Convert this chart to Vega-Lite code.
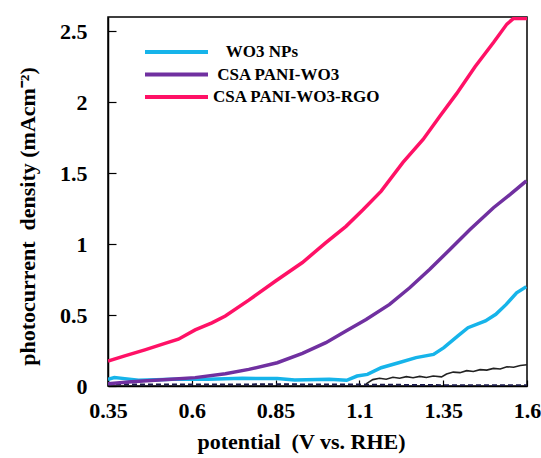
{
  "$schema": "https://vega.github.io/schema/vega-lite/v6.json",
  "width": 419,
  "height": 369,
  "autosize": "none",
  "padding": {"left": 108, "top": 17, "right": 14, "bottom": 72},
  "background": "white",
  "config": {
    "view": {"stroke": "black", "strokeWidth": 1.5},
    "font": "Liberation Serif",
    "axis": {
      "grid": false,
      "domainColor": "black",
      "domainWidth": 1.5,
      "tickColor": "black",
      "tickWidth": 1.2,
      "labelFont": "Liberation Serif",
      "labelFontWeight": "bold",
      "labelFontSize": 22,
      "labelColor": "black",
      "labelFlush": false,
      "labelOverlap": false,
      "titleFont": "Liberation Serif",
      "titleFontWeight": "bold",
      "titleFontSize": 22,
      "titleColor": "black"
    }
  },
  "datasets": {
    "curves": [
      {"series": "WO3 NPs", "potential": 0.35, "density": 0.047},
      {"series": "WO3 NPs", "potential": 0.369, "density": 0.059},
      {"series": "WO3 NPs", "potential": 0.40, "density": 0.052},
      {"series": "WO3 NPs", "potential": 0.441, "density": 0.040},
      {"series": "WO3 NPs", "potential": 0.545, "density": 0.047},
      {"series": "WO3 NPs", "potential": 0.648, "density": 0.047},
      {"series": "WO3 NPs", "potential": 0.751, "density": 0.054},
      {"series": "WO3 NPs", "potential": 0.855, "density": 0.052},
      {"series": "WO3 NPs", "potential": 0.907, "density": 0.042},
      {"series": "WO3 NPs", "potential": 1.010, "density": 0.047},
      {"series": "WO3 NPs", "potential": 1.062, "density": 0.040},
      {"series": "WO3 NPs", "potential": 1.093, "density": 0.070},
      {"series": "WO3 NPs", "potential": 1.124, "density": 0.082},
      {"series": "WO3 NPs", "potential": 1.165, "density": 0.129},
      {"series": "WO3 NPs", "potential": 1.217, "density": 0.164},
      {"series": "WO3 NPs", "potential": 1.269, "density": 0.200},
      {"series": "WO3 NPs", "potential": 1.321, "density": 0.223},
      {"series": "WO3 NPs", "potential": 1.352, "density": 0.270},
      {"series": "WO3 NPs", "potential": 1.393, "density": 0.352},
      {"series": "WO3 NPs", "potential": 1.424, "density": 0.411},
      {"series": "WO3 NPs", "potential": 1.476, "density": 0.458},
      {"series": "WO3 NPs", "potential": 1.507, "density": 0.505},
      {"series": "WO3 NPs", "potential": 1.538, "density": 0.575},
      {"series": "WO3 NPs", "potential": 1.569, "density": 0.657},
      {"series": "WO3 NPs", "potential": 1.598, "density": 0.700},
      {"series": "CSA PANI-WO3", "potential": 0.35, "density": 0.016},
      {"series": "CSA PANI-WO3", "potential": 0.42, "density": 0.030},
      {"series": "CSA PANI-WO3", "potential": 0.49, "density": 0.040},
      {"series": "CSA PANI-WO3", "potential": 0.55, "density": 0.050},
      {"series": "CSA PANI-WO3", "potential": 0.61, "density": 0.059},
      {"series": "CSA PANI-WO3", "potential": 0.70, "density": 0.087},
      {"series": "CSA PANI-WO3", "potential": 0.77, "density": 0.117},
      {"series": "CSA PANI-WO3", "potential": 0.855, "density": 0.164},
      {"series": "CSA PANI-WO3", "potential": 0.93, "density": 0.230},
      {"series": "CSA PANI-WO3", "potential": 1.00, "density": 0.305},
      {"series": "CSA PANI-WO3", "potential": 1.06, "density": 0.387},
      {"series": "CSA PANI-WO3", "potential": 1.12, "density": 0.469},
      {"series": "CSA PANI-WO3", "potential": 1.19, "density": 0.575},
      {"series": "CSA PANI-WO3", "potential": 1.25, "density": 0.692},
      {"series": "CSA PANI-WO3", "potential": 1.31, "density": 0.822},
      {"series": "CSA PANI-WO3", "potential": 1.37, "density": 0.962},
      {"series": "CSA PANI-WO3", "potential": 1.43, "density": 1.103},
      {"series": "CSA PANI-WO3", "potential": 1.50, "density": 1.256},
      {"series": "CSA PANI-WO3", "potential": 1.55, "density": 1.350},
      {"series": "CSA PANI-WO3", "potential": 1.598, "density": 1.445},
      {"series": "CSA PANI-WO3-RGO", "potential": 0.35, "density": 0.176},
      {"series": "CSA PANI-WO3-RGO", "potential": 0.40, "density": 0.212},
      {"series": "CSA PANI-WO3-RGO", "potential": 0.46, "density": 0.255},
      {"series": "CSA PANI-WO3-RGO", "potential": 0.52, "density": 0.300},
      {"series": "CSA PANI-WO3-RGO", "potential": 0.56, "density": 0.330},
      {"series": "CSA PANI-WO3-RGO", "potential": 0.61, "density": 0.395},
      {"series": "CSA PANI-WO3-RGO", "potential": 0.66, "density": 0.445},
      {"series": "CSA PANI-WO3-RGO", "potential": 0.70, "density": 0.493},
      {"series": "CSA PANI-WO3-RGO", "potential": 0.77, "density": 0.605},
      {"series": "CSA PANI-WO3-RGO", "potential": 0.85, "density": 0.740},
      {"series": "CSA PANI-WO3-RGO", "potential": 0.93, "density": 0.870},
      {"series": "CSA PANI-WO3-RGO", "potential": 1.00, "density": 1.010},
      {"series": "CSA PANI-WO3-RGO", "potential": 1.06, "density": 1.125},
      {"series": "CSA PANI-WO3-RGO", "potential": 1.11, "density": 1.240},
      {"series": "CSA PANI-WO3-RGO", "potential": 1.165, "density": 1.373},
      {"series": "CSA PANI-WO3-RGO", "potential": 1.23, "density": 1.575},
      {"series": "CSA PANI-WO3-RGO", "potential": 1.29, "density": 1.737},
      {"series": "CSA PANI-WO3-RGO", "potential": 1.34, "density": 1.900},
      {"series": "CSA PANI-WO3-RGO", "potential": 1.39, "density": 2.060},
      {"series": "CSA PANI-WO3-RGO", "potential": 1.445, "density": 2.250},
      {"series": "CSA PANI-WO3-RGO", "potential": 1.50, "density": 2.420},
      {"series": "CSA PANI-WO3-RGO", "potential": 1.54, "density": 2.550},
      {"series": "CSA PANI-WO3-RGO", "potential": 1.56, "density": 2.590},
      {"series": "CSA PANI-WO3-RGO", "potential": 1.60, "density": 2.590}
    ],
    "dark": [
      {"potential": 1.12, "density": 0.015},
      {"potential": 1.14, "density": 0.045},
      {"potential": 1.16, "density": 0.055},
      {"potential": 1.18, "density": 0.048},
      {"potential": 1.20, "density": 0.062},
      {"potential": 1.22, "density": 0.055},
      {"potential": 1.24, "density": 0.066},
      {"potential": 1.26, "density": 0.058},
      {"potential": 1.28, "density": 0.068},
      {"potential": 1.30, "density": 0.060},
      {"potential": 1.32, "density": 0.070},
      {"potential": 1.345, "density": 0.064},
      {"potential": 1.36, "density": 0.085},
      {"potential": 1.38, "density": 0.098},
      {"potential": 1.40, "density": 0.094},
      {"potential": 1.42, "density": 0.108},
      {"potential": 1.44, "density": 0.102},
      {"potential": 1.46, "density": 0.115},
      {"potential": 1.48, "density": 0.112},
      {"potential": 1.50, "density": 0.124},
      {"potential": 1.52, "density": 0.120},
      {"potential": 1.54, "density": 0.136},
      {"potential": 1.56, "density": 0.132},
      {"potential": 1.58, "density": 0.145},
      {"potential": 1.60, "density": 0.150}
    ],
    "baseline": [
      {"potential": 0.35, "density": 0.012},
      {"potential": 0.60, "density": 0.010},
      {"potential": 0.85, "density": 0.012},
      {"potential": 1.10, "density": 0.010},
      {"potential": 1.35, "density": 0.006},
      {"potential": 1.60, "density": 0.006}
    ]
  },
  "layer": [
    {
      "data": {"name": "baseline"},
      "mark": {"type": "line", "color": "#1c1c4a", "strokeWidth": 2, "strokeDash": [5, 3], "clip": true},
      "encoding": {
        "x": {"field": "potential", "type": "quantitative"},
        "y": {"field": "density", "type": "quantitative"}
      }
    },
    {
      "data": {"name": "dark"},
      "mark": {"type": "line", "color": "#222222", "strokeWidth": 1.6, "clip": true},
      "encoding": {
        "x": {"field": "potential", "type": "quantitative"},
        "y": {"field": "density", "type": "quantitative"}
      }
    },
    {
      "data": {"name": "curves"},
      "mark": {"type": "line", "strokeWidth": 3.5, "clip": true},
      "encoding": {
        "x": {
          "field": "potential",
          "type": "quantitative",
          "scale": {"domain": [0.35, 1.6], "nice": false, "zero": false},
          "axis": {
            "title": "potential\u00a0\u00a0(V vs. RHE)",
            "values": [0.35, 0.6, 0.85, 1.1, 1.35, 1.6],
            "labelExpr": "'' + datum.value",
            "tickSize": -6,
            "labelPadding": 20,
            "titlePadding": 10,
            "titleX": 193
          }
        },
        "y": {
          "field": "density",
          "type": "quantitative",
          "scale": {"domain": [0, 2.6], "nice": false},
          "axis": {
            "title": "photocurrent\u00a0\u00a0density (mAcm⁻²)",
            "values": [0, 0.5, 1, 1.5, 2, 2.5],
            "labelExpr": "'' + datum.value",
            "tickSize": -8,
            "labelPadding": 29,
            "titlePadding": 20,
            "titleY": 199
          }
        },
        "color": {
          "field": "series",
          "type": "nominal",
          "scale": {
            "domain": ["WO3 NPs", "CSA PANI-WO3", "CSA PANI-WO3-RGO"],
            "range": ["#16b4ea", "#7030a0", "#ff1166"]
          },
          "legend": {
            "title": null,
            "orient": "none",
            "legendX": 35,
            "legendY": 25,
            "padding": 0,
            "symbolType": "stroke",
            "symbolSize": 3969,
            "symbolStrokeWidth": 4,
            "clipHeight": 20,
            "rowPadding": 2.5,
            "labelOffset": 3,
            "labelLimit": 400,
            "labelFont": "Liberation Serif",
            "labelFontWeight": "bold",
            "labelFontSize": 17,
            "labelColor": "black",
            "labelExpr": "datum.label == 'WO3 NPs' ? '\u200b\u00a0\u00a0\u00a0' + datum.label : (datum.label == 'CSA PANI-WO3' ? '\u200b\u00a0' + datum.label : datum.label)"
          }
        }
      }
    },
    {
      "mark": {"type": "text", "font": "Liberation Serif", "fontWeight": "bold", "fontSize": 17, "color": "black"},
      "encoding": {
        "x": {"datum": 1.507},
        "y": {"datum": 0.224},
        "text": {"value": "Dark"}
      }
    }
  ]
}
